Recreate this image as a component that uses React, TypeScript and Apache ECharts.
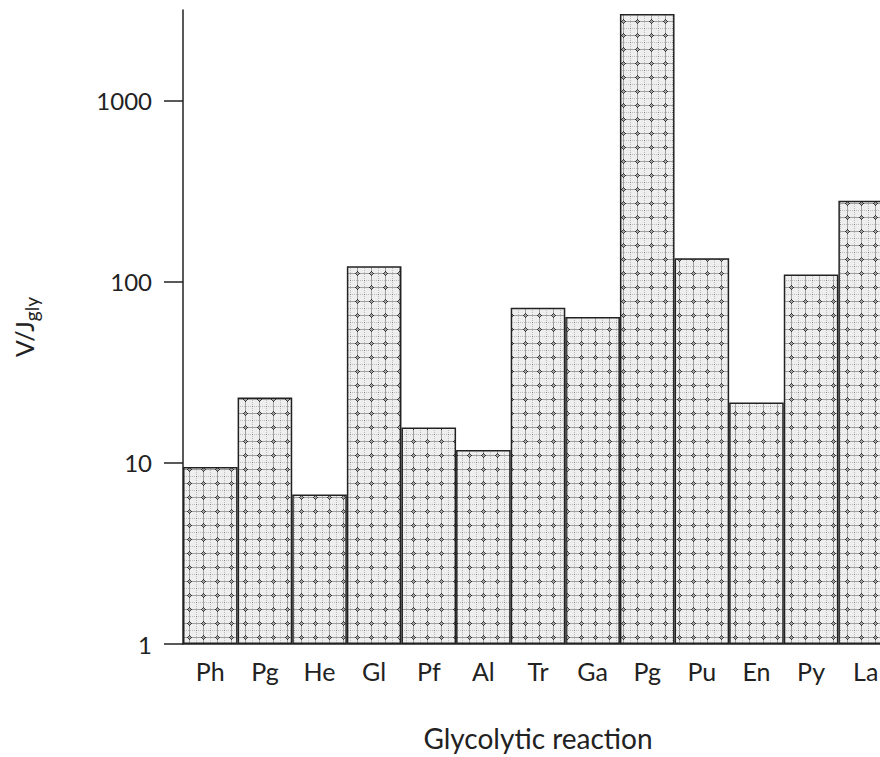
import React, { useEffect, useRef } from "react";
import * as echarts from "echarts";

// Glycolytic steps, in pathway order (phosphoglucomutase and phosphoglycerate kinase both abbreviate to "Pg")
const reactions = ["Ph", "Pg", "He", "Gl", "Pf", "Al", "Tr", "Ga", "Pg", "Pu", "En", "Py", "La"];
// Ratio of maximal enzyme rate to glycolytic flux, V/J_gly
const ratios = [9.5, 23, 6.7, 122, 15.7, 11.8, 72, 64, 3020, 135, 21.6, 110, 281];
// Decade ticks on the logarithmic axis
const yTicks = [1, 10, 100, 1000];
const yMin = 1;
const yMax = 3180;

const FONT = "Lato, 'Open Sans', sans-serif";
const INK = "#222";

// Small repeating tile giving the bars their dotted cross-hatch texture
function makeHatchTile(): HTMLCanvasElement {
  const size = 14;
  const c = document.createElement("canvas");
  c.width = size;
  c.height = size;
  const g = c.getContext("2d")!;
  g.fillStyle = "#eeeeee";
  g.fillRect(0, 0, size, size);
  // faint dotted lines half-way between the stars
  g.fillStyle = "#bcbcbc";
  for (let i = 0; i < size; i += 2) {
    g.fillRect(i, 0, 1, 1);
    g.fillRect(0, i, 1, 1);
  }
  // grey lines running through the stars
  g.fillStyle = "#a0a0a0";
  for (let i = 0; i < size; i++) {
    g.fillRect(i, 7, 1, 1);
    g.fillRect(7, i, 1, 1);
  }
  // ring-shaped star at the crossing
  const px = (x: number, y: number, col: string) => {
    g.fillStyle = col;
    g.fillRect(x, y, 1, 1);
  };
  px(5, 7, "#2a2a2a");
  px(9, 7, "#2a2a2a");
  px(7, 5, "#2a2a2a");
  px(7, 9, "#2a2a2a");
  px(6, 6, "#444");
  px(8, 6, "#444");
  px(6, 8, "#444");
  px(8, 8, "#444");
  px(7, 7, "#999");
  px(0, 0, "#808080");
  return c;
}

export default function App() {
  const ref = useRef<HTMLDivElement>(null);

  useEffect(() => {
    if (!ref.current) return;
    const chart = echarts.init(ref.current, undefined, { renderer: "svg" });
    const tile = makeHatchTile();

    chart.setOption({
      animation: false,
      backgroundColor: "#ffffff",
      grid: { left: 183, top: 10, bottom: 112, right: 7, containLabel: false },
      xAxis: {
        type: "category",
        data: reactions,
        name: "Glycolytic reaction",
        nameLocation: "middle",
        nameGap: 80,
        nameTextStyle: { fontFamily: FONT, fontSize: 28, color: INK },
        axisLine: { show: true, lineStyle: { color: INK, width: 1.5 } },
        axisTick: { show: false },
        axisLabel: { fontFamily: FONT, fontSize: 25, color: INK, margin: 14, interval: 0 },
      },
      yAxis: {
        type: "log",
        logBase: 10,
        min: yMin,
        max: yMax,
        name: "{v|V/J}{s|gly}",
        nameLocation: "middle",
        nameRotate: 90,
        nameGap: 142,
        nameTextStyle: {
          color: INK,
          rich: {
            v: { fontFamily: FONT, fontSize: 25, color: INK },
            s: { fontFamily: FONT, fontSize: 19, color: INK, padding: [16, 0, 0, 0] },
          },
        },
        splitLine: { show: false },
        axisLine: { show: true, lineStyle: { color: INK, width: 1.5 } },
        axisTick: {
          show: true,
          inside: false,
          length: 19,
          customValues: yTicks,
          lineStyle: { color: INK, width: 1.5 },
        },
        axisLabel: {
          fontFamily: FONT,
          fontSize: 24,
          color: INK,
          margin: 31,
          customValues: yTicks,
          formatter: (v: number) => String(v),
        },
      },
      series: [
        {
          type: "bar",
          data: ratios,
          barCategoryGap: "0%",
          itemStyle: {
            color: { image: tile, repeat: "repeat" },
            borderColor: INK,
            borderWidth: 1.5,
          },
        },
      ],
    });

    return () => chart.dispose();
  }, []);

  // The plotting area runs a little past the right edge of the 880px frame and is cropped there
  return (
    <div style={{ position: "fixed", left: 0, top: 0, width: 880, height: 757, overflow: "hidden", background: "#fff" }}>
      <div ref={ref} style={{ width: 900, height: 757 }} />
    </div>
  );
}
